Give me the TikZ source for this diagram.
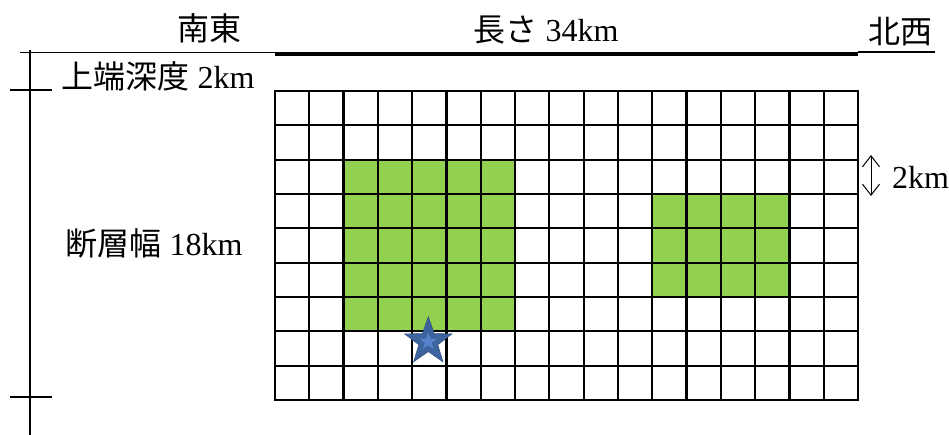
\documentclass[tikz,border=0pt]{standalone}
\usepackage{fontspec}
\setmainfont{Liberation Serif}
\newfontfamily\jp{Noto Sans CJK JP}
\usetikzlibrary{shapes.geometric,arrows.meta}
\definecolor{faultgreen}{RGB}{146,208,80}
\definecolor{starblue}{RGB}{62,100,160}
\definecolor{starlight}{RGB}{86,132,202}
\begin{document}
\begin{tikzpicture}[x=1pt,y=-1pt,
  lbl/.style={inner sep=0pt, font=\fontsize{32}{32}\selectfont},
  jpt/.style={font=\fontsize{32}{32}\selectfont\jp},
  thinrule/.style={line width=1.3pt},
  gridline/.style={line width=2.2pt}]
\useasboundingbox (0,0) rectangle (949,435);
% scale lines
\coordinate (ls) at (20,52.5);
\coordinate (le) at (275,52.5);
\coordinate (ts) at (275,54);
\coordinate (te) at (858,54);
\coordinate (rs) at (858,52);
\coordinate (re) at (935,52);
\draw[thinrule] (ls) -- (le);
\draw[line width=4pt] (ts) -- (te);
\draw[thinrule] (rs) -- (re);
\coordinate (vt) at (30,50);
\coordinate (vb) at (30,435);
\draw[line width=1.5pt] (vt) -- (vb);
\coordinate (t1a) at (10,90);
\coordinate (t1b) at (52,90);
\coordinate (t2a) at (10,397);
\coordinate (t2b) at (52,397);
\draw[thinrule] (t1a) -- (t1b);
\draw[thinrule] (t2a) -- (t2b);
% grid
\begin{scope}[shift={(275,91)}, x=34.294pt, y=-34.333pt]
  \fill[faultgreen] (2,2) rectangle (7,7);
  \fill[faultgreen] (11,3) rectangle (15,6);
  \foreach \i in {0,...,17} \draw[gridline] (\i,0) -- (\i,9);
  \foreach \j in {0,...,9} \draw[gridline, line cap=rect] (0,\j) -- (17,\j);
  \node[star, star points=5, star point ratio=2.5, minimum size=50pt, inner sep=0pt,
        fill=starblue, draw=starblue!80!black, line width=0.5pt] (epi) at (4.47,7.3) {};
  \node[star, star points=5, star point ratio=2.5, minimum size=18pt, inner sep=0pt,
        fill=starlight] (epic) at (epi.center) {};
\end{scope}
% cell size arrow
\coordinate (aa) at (871,155);
\coordinate (ab) at (871,196);
\draw[line width=1pt, {Straight Barb[length=11pt,width=17pt]}-{Straight Barb[length=11pt,width=17pt]}] (aa) -- (ab);
% labels
\node[lbl, jpt] (se) at (209,28) {南東};
\node[lbl] (len) at (546,30) {{\jp 長さ} 34km};
\node[lbl, jpt] (nw) at (900,32) {北西};
\node[lbl] (top) at (158,76) {{\jp 上端深度} 2km};
\node[lbl] (wid) at (154,244) {{\jp 断層幅} 18km};
\node[lbl, anchor=west] (cell) at (892,177) {2km};
\end{tikzpicture}
\end{document}
